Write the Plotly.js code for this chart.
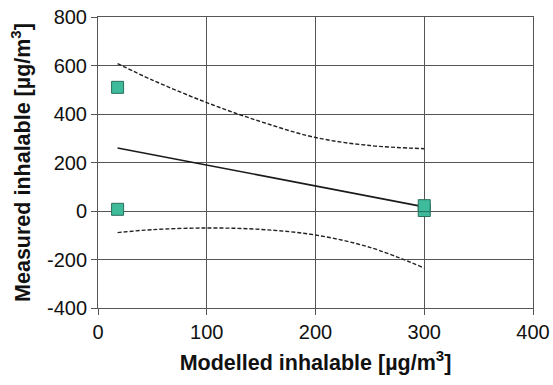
<!DOCTYPE html>
<html>
<head>
<meta charset="utf-8">
<script src="https://cdn.plot.ly/plotly-3.0.1.min.js"></script>
<style>html,body{margin:0;padding:0;background:#fff;}#chart{width:553px;height:385px;}</style>
</head>
<body>
<div id="chart"></div>
<script>
// Measured points
const pointX = [18, 18, 300, 300];
const pointY = [510, 7, 2, 22];
// Regression line
const fitX = [18, 300];
const fitY = [260, 17];
// Upper confidence curve
const upperX = [18, 50, 100, 150, 200, 250, 300];
const upperY = [608, 540, 447, 368, 303, 270, 257];
// Lower confidence curve
const lowerX = [18, 50, 100, 150, 200, 250, 300];
const lowerY = [-89, -77, -70, -76, -99, -150, -235];
const xTicks = [0, 100, 200, 300, 400];
const yTicks = [-400, -200, 0, 200, 400, 600, 800];

const gridColor = '#555';
const traces = [
  {x: upperX, y: upperY, mode: 'lines', line: {color: '#222', width: 1.4, dash: '4px,2px', shape: 'spline', smoothing: 1}, hoverinfo: 'skip'},
  {x: lowerX, y: lowerY, mode: 'lines', line: {color: '#222', width: 1.4, dash: '4px,2px', shape: 'spline', smoothing: 1}, hoverinfo: 'skip'},
  {x: fitX, y: fitY, mode: 'lines', line: {color: '#1a1a1a', width: 1.6}, hoverinfo: 'skip'},
  {x: pointX, y: pointY, mode: 'markers', marker: {symbol: 'square', size: 12, color: '#3dbb9b', line: {color: '#2b6e5e', width: 1}}}
];
const layout = {
  width: 553, height: 385,
  margin: {l: 98, r: 20, t: 17, b: 77},
  showlegend: false,
  paper_bgcolor: '#fff', plot_bgcolor: '#fff',
  font: {family: 'Liberation Sans, Arial, sans-serif', color: '#111'},
  xaxis: {
    range: [0, 400], tickvals: xTicks, ticktext: xTicks.map(String),
    showgrid: true, gridcolor: gridColor, gridwidth: 1,
    showline: true, linecolor: gridColor, linewidth: 1, mirror: true,
    ticks: 'outside', ticklen: 6, tickcolor: gridColor, tickwidth: 1,
    zeroline: false, tickfont: {size: 20, color: '#111'},
    title: {text: '<b>Modelled inhalable [µg/m<sup>3</sup>]</b>', font: {size: 21.5, color: '#111'}, standoff: 12}
  },
  yaxis: {
    range: [-400, 800], tickvals: yTicks, ticktext: yTicks.map(String),
    showgrid: true, gridcolor: gridColor, gridwidth: 1,
    showline: true, linecolor: gridColor, linewidth: 1, mirror: true,
    ticks: 'outside', ticklen: 6, tickcolor: gridColor, tickwidth: 1,
    zeroline: false, tickfont: {size: 20, color: '#111'},
    title: {text: '<b>Measured inhalable [µg/m<sup>3</sup>]</b>', font: {size: 21.5, color: '#111'}, standoff: 10}
  }
};
Plotly.newPlot('chart', traces, layout, {displayModeBar: false, staticPlot: true});
</script>
</body>
</html>
